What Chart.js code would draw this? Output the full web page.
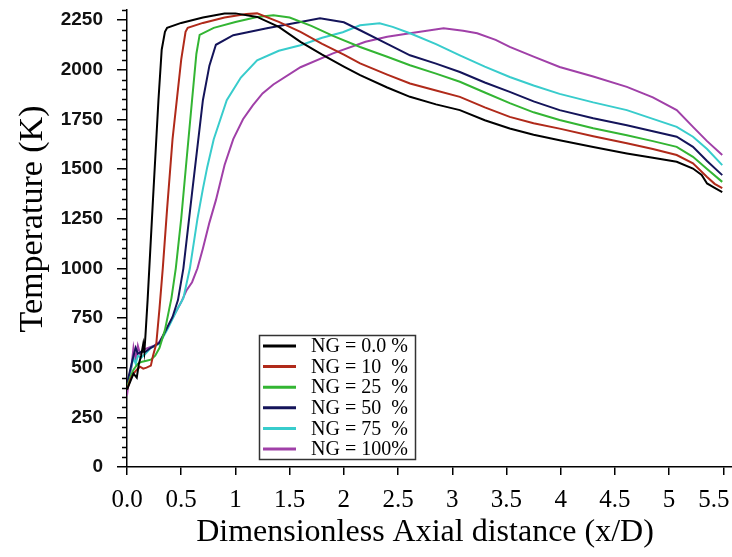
<!DOCTYPE html>
<html>
<head>
<meta charset="utf-8">
<script src="https://cdn.jsdelivr.net/npm/chart.js@4.4.1/dist/chart.umd.min.js"></script>
<style>
  html, body { margin: 0; padding: 0; background: #fff; }
  #wrap { width: 732px; height: 557px; position: relative; }
</style>
</head>
<body>
<div id="wrap"><canvas id="chart"></canvas></div>
<script>
// x/D positions and temperatures (K), one pair of arrays per NG share
const ng0Dist = [0, 0.03, 0.06, 0.09, 0.11, 0.13, 0.15, 0.16, 0.17, 0.19, 0.24, 0.29, 0.32, 0.35, 0.37, 0.5, 0.7, 0.9, 1.0, 1.2, 1.4, 1.6, 1.8, 2.0, 2.15, 2.4, 2.61, 2.85, 3.07, 3.3, 3.53, 3.75, 3.99, 4.3, 4.61, 4.85, 5.07, 5.22, 5.3, 5.35, 5.42, 5.49];
const ng0Temp = [390, 430, 470, 450, 520, 560, 620, 580, 660, 840, 1350, 1846, 2100, 2190, 2210, 2235, 2262, 2282, 2283, 2265, 2215, 2140, 2075, 2015, 1972, 1910, 1863, 1825, 1796, 1745, 1704, 1672, 1645, 1610, 1578, 1556, 1536, 1502, 1470, 1427, 1405, 1384];

const ng10Dist = [0, 0.03, 0.06, 0.09, 0.12, 0.15, 0.18, 0.22, 0.24, 0.27, 0.3, 0.33, 0.37, 0.42, 0.46, 0.5, 0.54, 0.56, 0.7, 0.9, 1.1, 1.2, 1.4, 1.6, 1.8, 2.0, 2.15, 2.4, 2.61, 2.85, 3.07, 3.3, 3.53, 3.75, 3.99, 4.3, 4.61, 4.85, 5.07, 5.22, 5.35, 5.42, 5.49];
const ng10Temp = [390, 440, 470, 490, 505, 495, 500, 510, 560, 620, 800, 1000, 1300, 1650, 1850, 2050, 2190, 2210, 2235, 2262, 2280, 2283, 2240, 2190, 2130, 2075, 2031, 1975, 1930, 1895, 1863, 1810, 1762, 1730, 1703, 1665, 1629, 1600, 1570, 1528, 1460, 1425, 1403];

const ng25Dist = [0, 0.03, 0.06, 0.1, 0.14, 0.18, 0.22, 0.26, 0.3, 0.35, 0.41, 0.45, 0.5, 0.55, 0.6, 0.64, 0.67, 0.8, 1.0, 1.2, 1.35, 1.5, 1.7, 1.9, 2.15, 2.4, 2.61, 2.85, 3.07, 3.3, 3.53, 3.75, 3.99, 4.3, 4.61, 4.85, 5.07, 5.22, 5.35, 5.49];
const ng25Temp = [400, 450, 490, 520, 530, 535, 540, 560, 600, 690, 850, 1000, 1250, 1550, 1846, 2080, 2175, 2210, 2240, 2265, 2274, 2262, 2220, 2170, 2114, 2065, 2022, 1980, 1939, 1885, 1831, 1785, 1746, 1705, 1670, 1640, 1611, 1561, 1500, 1435];

const ng50Dist = [0, 0.03, 0.06, 0.08, 0.1, 0.13, 0.17, 0.22, 0.3, 0.36, 0.42, 0.47, 0.52, 0.6, 0.7, 0.76, 0.82, 0.98, 1.29, 1.6, 1.78, 2.0, 2.15, 2.4, 2.61, 2.85, 3.07, 3.3, 3.53, 3.75, 3.99, 4.3, 4.61, 4.85, 5.07, 5.22, 5.35, 5.49];
const ng50Temp = [420, 490, 560, 600, 570, 580, 580, 600, 625, 690, 755, 840, 1000, 1380, 1846, 2020, 2125, 2173, 2208, 2240, 2258, 2238, 2198, 2130, 2072, 2030, 1988, 1935, 1888, 1840, 1796, 1755, 1720, 1690, 1662, 1611, 1540, 1469];

const ng75Dist = [0, 0.03, 0.06, 0.08, 0.1, 0.13, 0.17, 0.22, 0.3, 0.38, 0.46, 0.52, 0.58, 0.65, 0.7, 0.74, 0.8, 0.92, 1.05, 1.2, 1.4, 1.6, 1.8, 1.99, 2.15, 2.33, 2.45, 2.61, 2.85, 3.07, 3.3, 3.53, 3.75, 3.99, 4.3, 4.61, 4.85, 5.07, 5.22, 5.35, 5.49];
const ng75Temp = [410, 480, 550, 520, 560, 550, 570, 600, 620, 700, 790, 850, 1000, 1250, 1400, 1509, 1650, 1846, 1960, 2047, 2095, 2123, 2160, 2188, 2223, 2233, 2215, 2183, 2128, 2072, 2015, 1963, 1920, 1878, 1835, 1796, 1752, 1712, 1662, 1600, 1519];

const ng100Dist = [0, 0.02, 0.04, 0.06, 0.08, 0.1, 0.12, 0.15, 0.2, 0.25, 0.3, 0.4, 0.5, 0.55, 0.6, 0.65, 0.7, 0.76, 0.82, 0.9, 0.98, 1.07, 1.16, 1.25, 1.35, 1.6, 1.9, 2.2, 2.4, 2.61, 2.92, 3.1, 3.23, 3.4, 3.53, 3.75, 3.99, 4.3, 4.61, 4.85, 5.07, 5.22, 5.35, 5.49];
const ng100Temp = [360, 450, 500, 600, 540, 610, 570, 590, 600, 610, 630, 730, 830, 890, 930, 1000, 1100, 1230, 1343, 1520, 1650, 1750, 1820, 1880, 1925, 2012, 2082, 2140, 2165, 2183, 2208, 2195, 2183, 2150, 2114, 2065, 2013, 1965, 1913, 1860, 1796, 1712, 1640, 1570];

const seriesLabels = ['NG = 0.0 %', 'NG = 10  %', 'NG = 25  %', 'NG = 50  %', 'NG = 75  %', 'NG = 100%'];
const seriesColors = ['#000000', '#b02a1a', '#33b533', '#14145a', '#38cccc', '#a040a8'];

const xTickValues = [0, 0.5, 1, 1.5, 2, 2.5, 3, 3.5, 4, 4.5, 5, 5.5];
const xTickLabels = ['0.0', '0.5', '1', '1.5', '2', '2.5', '3', '3.5', '4', '4.5', '5', '5.5'];
const yTickValues = [0, 250, 500, 750, 1000, 1250, 1500, 1750, 2000, 2250];

const xTitle = 'Dimensionless Axial distance (x/D)';
const yTitle = 'Temperature (K)';

function toPoints(dist, temp) {
  return dist.map((x, i) => ({ x: x, y: temp[i] }));
}

const allDist = [ng0Dist, ng10Dist, ng25Dist, ng50Dist, ng75Dist, ng100Dist];
const allTemp = [ng0Temp, ng10Temp, ng25Temp, ng50Temp, ng75Temp, ng100Temp];

const datasets = seriesLabels.map((label, i) => ({
  label: label,
  data: toPoints(allDist[i], allTemp[i]),
  borderColor: seriesColors[i],
  backgroundColor: seriesColors[i],
  borderWidth: 2,
  pointRadius: 0,
  tension: 0,
  fill: false,
}));

// keep the plot box where the reference has it, no extra room for edge labels
function noEdgePadding(scale) {
  scale.paddingTop = 0;
  scale.paddingBottom = 0;
  scale.paddingLeft = 0;
  scale.paddingRight = 0;
}

// short ticks every 50 K between the labelled ones
const minorTicks = {
  id: 'minorTicks',
  afterDraw(chart) {
    const ctx = chart.ctx;
    const y = chart.scales.y;
    const left = chart.chartArea.left;
    ctx.save();
    ctx.strokeStyle = '#000';
    ctx.lineWidth = 1.5;
    for (let v = 50; v <= y.max; v += 50) {
      if (v % 250 === 0) continue;
      const py = Math.round(y.getPixelForValue(v)) + 0.5;
      ctx.beginPath();
      ctx.moveTo(left - 5, py);
      ctx.lineTo(left, py);
      ctx.stroke();
    }
    ctx.restore();
  }
};

const axisTitles = {
  id: 'axisTitles',
  afterDraw(chart) {
    const ctx = chart.ctx;
    ctx.save();
    ctx.fillStyle = '#000';
    ctx.textAlign = 'center';
    ctx.textBaseline = 'middle';
    ctx.font = '32px "Liberation Serif"';
    ctx.fillText(xTitle, 425, 533);
    ctx.translate(33, 219);
    ctx.rotate(-Math.PI / 2);
    ctx.font = '34px "Liberation Serif"';
    ctx.fillText(yTitle, 0, 0);
    ctx.restore();
  }
};

const boxLegend = {
  id: 'boxLegend',
  afterDraw(chart) {
    const ctx = chart.ctx;
    ctx.save();
    ctx.fillStyle = '#fff';
    ctx.fillRect(259, 335, 156, 124);
    ctx.strokeStyle = '#333';
    ctx.lineWidth = 1.5;
    ctx.strokeRect(259.5, 335.5, 156, 124);
    ctx.font = '20px "Liberation Serif"';
    ctx.textBaseline = 'middle';
    ctx.textAlign = 'left';
    chart.data.datasets.forEach((ds, i) => {
      const ry = 346 + i * 20.6;
      ctx.strokeStyle = ds.borderColor;
      ctx.lineWidth = 3;
      ctx.beginPath();
      ctx.moveTo(263, ry);
      ctx.lineTo(296, ry);
      ctx.stroke();
      ctx.fillStyle = '#000';
      ctx.fillText(ds.label, 311, ry + 1);
    });
    ctx.restore();
  }
};

new Chart(document.getElementById('chart'), {
  type: 'line',
  data: { datasets },
  plugins: [minorTicks, axisTitles, boxLegend],
  options: {
    responsive: true,
    maintainAspectRatio: false,
    animation: false,
    layout: { padding: { top: 10, right: 0, left: 0, bottom: 0 } },
    plugins: {
      legend: { display: false },
      tooltip: { enabled: false },
    },
    scales: {
      x: {
        type: 'linear',
        min: 0,
        max: 5.58,
        afterBuildTicks: (scale) => { scale.ticks = xTickValues.map(v => ({ value: v })); },
        afterFit: (scale) => { scale.height = 90; noEdgePadding(scale); },
        ticks: {
          color: '#000',
          padding: 10,
          font: { family: '"Liberation Serif"', size: 25 },
          // last label sits at the canvas edge, nudge it left with trailing spaces
          callback: (value, index) => {
            const label = xTickLabels[xTickValues.indexOf(value)];
            return index === xTickValues.length - 1 ? label + '   ' : label;
          },
          maxRotation: 0,
          autoSkip: false,
        },
        grid: { drawOnChartArea: false, color: '#000', lineWidth: 1.5, tickLength: 8 },
        border: { color: '#000', width: 1.5 },
      },
      y: {
        min: 0,
        max: 2300,
        afterBuildTicks: (scale) => { scale.ticks = yTickValues.map(v => ({ value: v })); },
        afterFit: (scale) => { scale.width = 127; noEdgePadding(scale); },
        ticks: {
          color: '#111',
          padding: 14,
          font: { family: '"Liberation Sans"', size: 19, weight: 'bold' },
          callback: (value) => String(value),
        },
        grid: { drawOnChartArea: false, color: '#000', lineWidth: 1.5, tickLength: 10 },
        border: { color: '#000', width: 1.5 },
      },
    },
  },
});
</script>
</body>
</html>
